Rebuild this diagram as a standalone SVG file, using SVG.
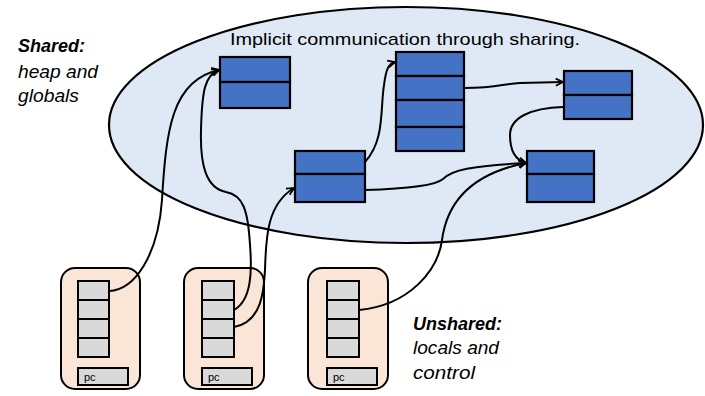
<svg xmlns="http://www.w3.org/2000/svg" width="705" height="396" viewBox="0 0 705 396">
  <style>
    .cell { fill: #4472C4; stroke: #000; stroke-width: 2.2; }
    .slot { fill: #D9D9D9; stroke: #000; stroke-width: 2; }
    .thread { fill: #FBE5D6; stroke: #000; stroke-width: 2; }
    .link { fill: none; stroke: #000; stroke-width: 2; }
    .lbl { font-family: "Liberation Sans", Arial, sans-serif; fill: #000; }
    .head { font-weight: bold; font-style: italic; font-size: 18px; }
    .sub { font-style: italic; font-size: 18px; }
    .pc { font-family: "Liberation Sans", Arial, sans-serif; font-size: 11px; fill: #000; }
  </style>
  <defs>
    <marker id="arrow" viewBox="0 0 10 10" refX="9" refY="5" markerWidth="9" markerHeight="9" markerUnits="userSpaceOnUse" orient="auto">
      <path d="M1,1 L9,5 L1,9" fill="none" stroke="#000" stroke-width="2"/>
    </marker>
  </defs>
  <rect width="705" height="396" fill="#fff"/>

  <!-- shared region -->
  <g id="shared-region">
    <ellipse cx="406" cy="125" rx="297" ry="118" fill="#DEE9F5" stroke="#000" stroke-width="2.2"/>
    <text class="lbl" x="230" y="45" font-size="17" textLength="350" lengthAdjust="spacingAndGlyphs">Implicit communication through sharing.</text>
  </g>

  <g id="shared-label">
    <text class="lbl head" x="18" y="52" textLength="67" lengthAdjust="spacingAndGlyphs">Shared:</text>
    <text class="lbl sub" x="18" y="78" textLength="80" lengthAdjust="spacingAndGlyphs">heap and</text>
    <text class="lbl sub" x="18" y="102" textLength="61" lengthAdjust="spacingAndGlyphs">globals</text>
  </g>

  <g id="unshared-label">
    <text class="lbl head" x="413" y="330" textLength="89" lengthAdjust="spacingAndGlyphs">Unshared:</text>
    <text class="lbl sub" x="413" y="354" textLength="86" lengthAdjust="spacingAndGlyphs">locals and</text>
    <text class="lbl sub" x="413" y="379" textLength="62" lengthAdjust="spacingAndGlyphs">control</text>
  </g>

  <!-- heap objects -->
  <g id="obj-a">
    <rect class="cell" x="220" y="57" width="70" height="25"/>
    <rect class="cell" x="220" y="82" width="70" height="26"/>
  </g>
  <g id="obj-b">
    <rect class="cell" x="396" y="52" width="68" height="24"/>
    <rect class="cell" x="396" y="76" width="68" height="24"/>
    <rect class="cell" x="396" y="100" width="68" height="27"/>
    <rect class="cell" x="396" y="127" width="68" height="24"/>
  </g>
  <g id="obj-c">
    <rect class="cell" x="564" y="71" width="68" height="24"/>
    <rect class="cell" x="564" y="95" width="68" height="24"/>
  </g>
  <g id="obj-d">
    <rect class="cell" x="527" y="151" width="67" height="23"/>
    <rect class="cell" x="527" y="174" width="67" height="28"/>
  </g>
  <g id="obj-e">
    <rect class="cell" x="295" y="151" width="70" height="23"/>
    <rect class="cell" x="295" y="174" width="70" height="28"/>
  </g>

  <!-- threads -->
  <g id="thread-1">
    <rect class="thread" x="61" y="268" width="79" height="121" rx="14"/>
    <rect class="slot" x="78" y="281" width="31" height="19"/>
    <rect class="slot" x="78" y="300" width="31" height="19"/>
    <rect class="slot" x="78" y="319" width="31" height="19"/>
    <rect class="slot" x="78" y="338" width="31" height="19"/>
    <rect class="slot" x="78" y="368" width="50" height="17"/>
    <text class="pc" x="84" y="381">pc</text>
  </g>
  <g id="thread-2">
    <rect class="thread" x="184" y="268" width="80" height="121" rx="14"/>
    <rect class="slot" x="202" y="281" width="32" height="19"/>
    <rect class="slot" x="202" y="300" width="32" height="19"/>
    <rect class="slot" x="202" y="319" width="32" height="19"/>
    <rect class="slot" x="202" y="338" width="32" height="19"/>
    <rect class="slot" x="202" y="368" width="50" height="17"/>
    <text class="pc" x="208" y="381">pc</text>
  </g>
  <g id="thread-3">
    <rect class="thread" x="308" y="268" width="80" height="121" rx="14"/>
    <rect class="slot" x="327" y="281" width="32" height="19"/>
    <rect class="slot" x="327" y="300" width="32" height="19"/>
    <rect class="slot" x="327" y="319" width="32" height="19"/>
    <rect class="slot" x="327" y="338" width="32" height="19"/>
    <rect class="slot" x="327" y="368" width="50" height="17"/>
    <text class="pc" x="333" y="381">pc</text>
  </g>

  <!-- references -->
  <g id="connectors">
    <path class="link" marker-end="url(#arrow)" d="M109,291 C135,290 158,255 162,200 C166,130 172,80 219,70"/>
    <path class="link" marker-end="url(#arrow)" d="M234,310 C252,300 252,270 250,245 C248,210 243,195 226,192 C206,188 200,165 201,130 C202,90 205,75 219,70"/>
    <path class="link" marker-end="url(#arrow)" d="M234,327 C262,322 264,290 265,270 C266,240 266,205 294,188"/>
    <path class="link" marker-end="url(#arrow)" d="M359,310 C410,305 438,270 442,240 C448,195 480,172 526,163"/>
    <path class="link" marker-end="url(#arrow)" d="M365,162 C385,140 380,110 384,85 C386,70 388,64 395,62"/>
    <path class="link" marker-end="url(#arrow)" d="M365,190 C400,189 435,186 443,179 C452,170 470,166 526,163"/>
    <path class="link" marker-end="url(#arrow)" d="M464,88 C500,88 500,84 520,83 L563,82"/>
    <path class="link" marker-end="url(#arrow)" d="M563,107 C530,108 510,118 510,135 C510,150 515,160 526,163"/>
  </g>
</svg>
